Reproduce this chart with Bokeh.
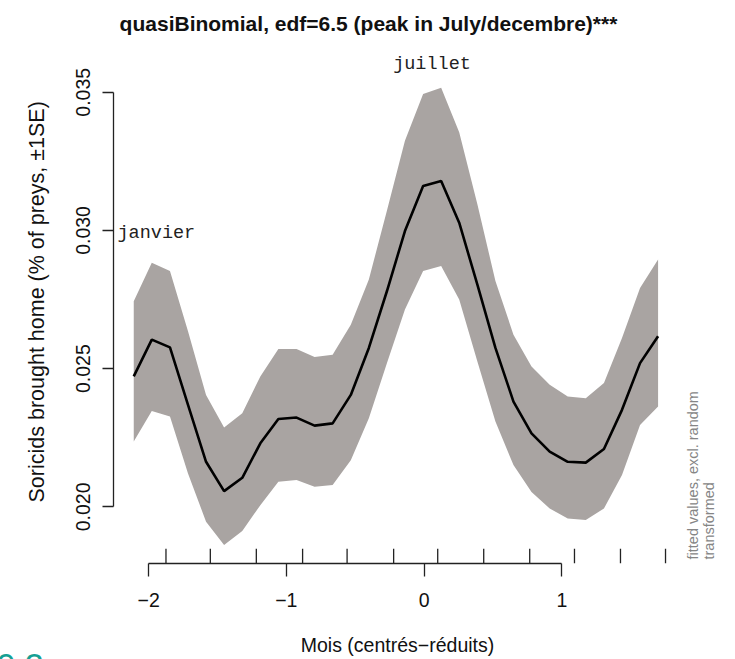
import math
from bokeh.plotting import figure
from bokeh.models import Range1d, FixedTicker, PrintfTickFormatter, Label, Title
from bokeh.embed import file_html
from bokeh.resources import INLINE

# ---- data ----
x = [-2.108, -1.977, -1.845, -1.714, -1.583, -1.452, -1.320, -1.189, -1.058, -0.926,
     -0.795, -0.664, -0.532, -0.401, -0.270, -0.139, -0.007, 0.124, 0.255, 0.387,
     0.518, 0.649, 0.780, 0.912, 1.043, 1.174, 1.306, 1.437, 1.568, 1.699]
fit = [0.02472, 0.02605, 0.02577, 0.02369, 0.02163, 0.02057, 0.02105, 0.02230, 0.02318, 0.02323,
       0.02294, 0.02302, 0.02405, 0.02575, 0.02780, 0.02998, 0.03161, 0.03179, 0.03028, 0.02804,
       0.02575, 0.02381, 0.02266, 0.02200, 0.02163, 0.02160, 0.02209, 0.02351, 0.02520, 0.02617]
upper = [0.02744, 0.02883, 0.02853, 0.02635, 0.02405, 0.02287, 0.02339, 0.02472, 0.02571, 0.02571,
         0.02542, 0.02550, 0.02659, 0.02823, 0.03071, 0.03325, 0.03494, 0.03516, 0.03355, 0.03095,
         0.02817, 0.02623, 0.02508, 0.02442, 0.02399, 0.02393, 0.02448, 0.02611, 0.02792, 0.02895]
lower = [0.02236, 0.02347, 0.02327, 0.02121, 0.01946, 0.01862, 0.01913, 0.02006, 0.02091, 0.02097,
         0.02073, 0.02079, 0.02169, 0.02321, 0.02520, 0.02714, 0.02853, 0.02871, 0.02750, 0.02526,
         0.02309, 0.02151, 0.02054, 0.01994, 0.01958, 0.01952, 0.01994, 0.02115, 0.02296, 0.02363]
month_ticks = [-1.874, -1.552, -1.218, -0.882, -0.559, -0.221, 0.099, 0.433, 0.767, 1.092, 1.426, 1.753]
x_ticks = [-2, -1, 0, 1]
x_tick_labels = ["\u22122", "\u22121", "0", "1"]
y_ticks = [0.020, 0.025, 0.030, 0.035]
month_names = ["janvier", "juillet"]

FONT = "Liberation Sans"
MONO = "Liberation Mono"

p = figure(width=735, height=659, output_backend="svg", toolbar_location=None, title=None,
           x_range=Range1d(-2.255, 2.2611), y_range=Range1d(0.01795, 0.035209),
           min_border_left=113, min_border_right=0, min_border_top=86, min_border_bottom=96)
p.outline_line_color = None
p.grid.visible = False
p.background_fill_color = "white"
p.border_fill_color = "white"

# band and fitted curve
p.varea(x=x, y1=lower, y2=upper, fill_color="#a9a4a2", fill_alpha=1.0)
p.line(x, fit, line_width=2.6, line_color="black")

# month ticks (pointing up from the x axis)
y0 = p.y_range.start
tick_len = 0.00053
p.segment(x0=month_ticks, y0=[y0] * len(month_ticks), x1=month_ticks,
          y1=[y0 + tick_len] * len(month_ticks), line_color="#222222", line_width=1.3)

# x axis
xa = p.xaxis[0]
xa.bounds = (x_ticks[0], x_ticks[-1])
xa.ticker = FixedTicker(ticks=x_ticks)
xa.major_label_overrides = {t: l for t, l in zip(x_ticks, x_tick_labels)}
xa.major_tick_out = 13
xa.major_tick_in = 0
xa.minor_tick_out = 0
xa.minor_tick_in = 0
xa.axis_line_width = 1.3
xa.major_tick_line_width = 1.3
xa.axis_line_color = "#222222"
xa.major_tick_line_color = "#222222"
xa.major_label_text_font = FONT
xa.major_label_text_font_size = "19.5px"
xa.major_label_text_color = "#111111"
xa.major_label_standoff = 16

# y axis
ya = p.yaxis[0]
ya.bounds = (y_ticks[0], y_ticks[-1])
ya.ticker = FixedTicker(ticks=y_ticks)
ya.formatter = PrintfTickFormatter(format="%.3f")
ya.major_label_orientation = "parallel"
ya.major_tick_out = 11
ya.major_tick_in = 0
ya.minor_tick_out = 0
ya.minor_tick_in = 0
ya.axis_line_width = 1.3
ya.major_tick_line_width = 1.3
ya.axis_line_color = "#222222"
ya.major_tick_line_color = "#222222"
ya.major_label_text_font = FONT
ya.major_label_text_font_size = "19.5px"
ya.major_label_text_color = "#111111"
ya.major_label_standoff = 12

# y axis title (left panel)
p.add_layout(Title(text="Soricids brought home (% of preys, \u00b11SE)", align="left", offset=61,
                   standoff=46, vertical_align="top", text_font=FONT,
                   text_font_style="normal", text_font_size="21.5px", text_color="#111111"), "left")

# chart title (above panel)
p.add_layout(Label(x=-0.4036, y=0.037499, text="quasiBinomial, edf=6.5 (peak in July/decembre)***",
                   text_align="center", text_baseline="middle", text_font=FONT,
                   text_font_style="bold", text_font_size="21px", text_color="#111111"), "above")

# month names
p.add_layout(Label(x=0.0575, y=0.036005, text=month_names[1], text_align="center",
                   text_baseline="middle", text_font=MONO,
                   text_font_size="18.5px", text_color="#222222"), "above")
p.add_layout(Label(x=-2.226, y=0.0299, text=month_names[0], text_align="left",
                   text_baseline="middle", text_font=MONO,
                   text_font_size="18.5px", text_color="#222222"))

# teal fragment at bottom-left
p.add_layout(Label(x=-3.1045, y=0.014259, text="0.2", text_align="left",
                   text_baseline="alphabetic", text_font=FONT,
                   text_font_size="34px", text_color="#16a094"), "above")

# x axis title (below panel)
p.add_layout(Label(x=-0.193, y=0.015019, text="Mois (centr\u00e9s\u2212r\u00e9duits)",
                   text_align="center", text_baseline="middle", text_font=FONT,
                   text_font_size="19.5px", text_color="#111111"), "below")

# right margin note
p.add_layout(Label(x=1.956, y=0.018095, text="fitted values, excl. random", angle=math.pi / 2,
                   text_align="left", text_baseline="middle", text_font=FONT,
                   text_font_size="14.5px", text_color="#858585"))
p.add_layout(Label(x=2.072, y=0.018095, text="transformed", angle=math.pi / 2,
                   text_align="left", text_baseline="middle", text_font=FONT,
                   text_font_size="14.5px", text_color="#858585"))

open("out.html", "w").write(file_html(p, INLINE))
